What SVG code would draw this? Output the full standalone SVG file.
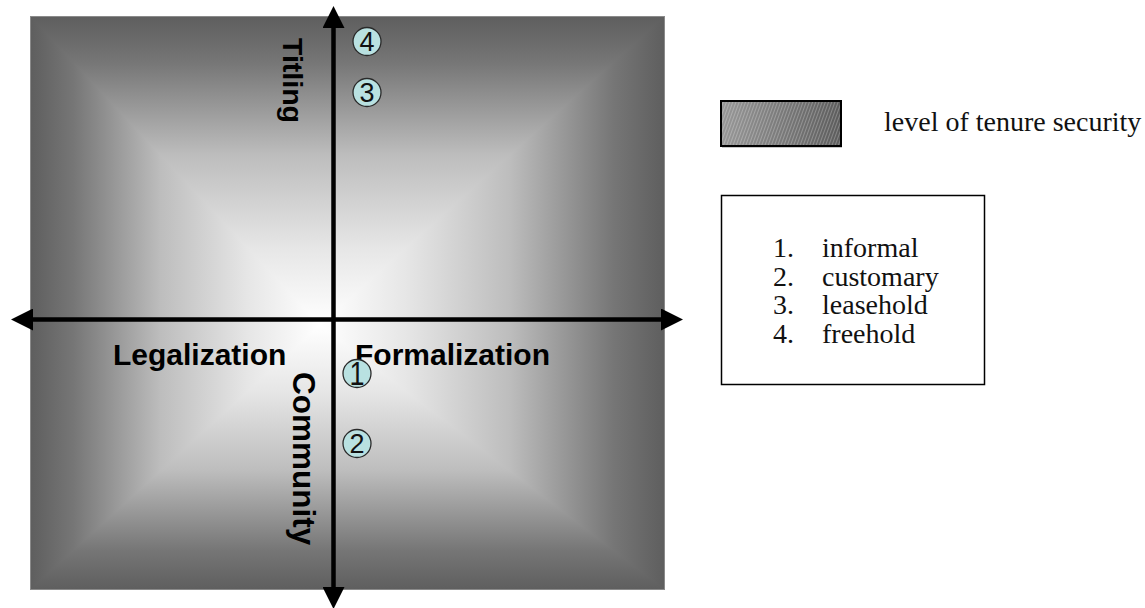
<svg xmlns="http://www.w3.org/2000/svg" width="1145" height="608" viewBox="0 0 1145 608">
  <defs>
    <!-- shared grey ramp: dark at the outer edge, white at the centre -->
    <linearGradient id="ramp">
      <stop offset="0" stop-color="#5e5e5e"/>
      <stop offset="0.15" stop-color="#767676"/>
      <stop offset="0.45" stop-color="#bdbdbd"/>
      <stop offset="0.75" stop-color="#e6e6e6"/>
      <stop offset="1" stop-color="#ffffff"/>
    </linearGradient>
    <linearGradient id="gLeft" href="#ramp" gradientUnits="userSpaceOnUse" x1="30" y1="0" x2="320" y2="0"/>
    <linearGradient id="gRight" href="#ramp" gradientUnits="userSpaceOnUse" x1="665" y1="0" x2="320" y2="0"/>
    <linearGradient id="gTop" href="#ramp" gradientUnits="userSpaceOnUse" x1="0" y1="16" x2="0" y2="325"/>
    <linearGradient id="gBottom" href="#ramp" gradientUnits="userSpaceOnUse" x1="0" y1="590" x2="0" y2="325"/>

    <!-- legend swatch: grey shading with fine diagonal hatching -->
    <linearGradient id="swatchShade" x1="0" y1="0" x2="1" y2="0">
      <stop offset="0" stop-color="#989898"/>
      <stop offset="1" stop-color="#5c5c5c"/>
    </linearGradient>
    <pattern id="hatch" width="3" height="3" patternUnits="userSpaceOnUse" patternTransform="rotate(20)">
      <rect x="0" y="0" width="1" height="3" fill="#ffffff" fill-opacity="0.25"/>
    </pattern>

    <marker id="arrow" viewBox="0 0 22 22" refX="0" refY="11" markerWidth="22" markerHeight="22"
            markerUnits="userSpaceOnUse" orient="auto-start-reverse">
      <path d="M0,0 L22,11 L0,22 Z" fill="#000000"/>
    </marker>

    <style>
      .axis { stroke: #000000; stroke-width: 4.5; fill: none; }
      .axisLabel { font-family: "Liberation Sans", Arial, sans-serif; font-weight: bold; fill: #000000; }
      .badge circle { fill: #b9e1e1; stroke: #2a2a2a; stroke-width: 1.3; }
      .badge text { font-family: "Liberation Sans", Arial, sans-serif; font-size: 27px; fill: #111111; text-anchor: middle; }
      .legendText { font-family: "Liberation Serif", "Times New Roman", serif; font-size: 28px; fill: #111111; }
    </style>
  </defs>

  <rect width="1145" height="608" fill="#ffffff"/>

  <!-- shaded field: a pyramid gradient built from halves and triangles -->
  <g id="field">
    <rect x="30" y="16" width="290" height="574" fill="url(#gLeft)"/>
    <rect x="320" y="16" width="345" height="574" fill="url(#gRight)"/>
    <polygon points="30,16 665,16 320,325" fill="url(#gTop)"/>
    <polygon points="30,590 665,590 320,325" fill="url(#gBottom)"/>
    <rect x="30.5" y="16.5" width="634" height="573" fill="none" stroke="#8a8a8a" stroke-width="1"/>
  </g>

  <!-- axes -->
  <g id="connectors">
    <path class="axis" d="M33,319.5 H661" marker-start="url(#arrow)" marker-end="url(#arrow)"/>
    <path class="axis" d="M333.5,28 V587" marker-start="url(#arrow)" marker-end="url(#arrow)"/>
  </g>

  <!-- axis labels -->
  <g id="label-legalization">
    <text class="axisLabel" x="113" y="365" font-size="30">Legalization</text>
  </g>
  <g id="label-formalization">
    <text class="axisLabel" x="355" y="365" font-size="30">Formalization</text>
  </g>
  <g id="label-titling">
    <text class="axisLabel" transform="translate(283,38) rotate(90)" font-size="28.5">Titling</text>
  </g>
  <g id="label-community">
    <text class="axisLabel" transform="translate(293,372) rotate(90)" font-size="31.5">Community</text>
  </g>

  <!-- numbered tenure types -->
  <g id="node-4" class="badge">
    <circle cx="367" cy="41.5" r="14"/>
    <text x="367" y="51">4</text>
  </g>
  <g id="node-3" class="badge">
    <circle cx="367" cy="92.5" r="14"/>
    <text x="367" y="102">3</text>
  </g>
  <g id="node-1" class="badge">
    <circle cx="357" cy="373.5" r="14"/>
    <text x="357" y="383" transform="translate(357,373.5) scale(1,1.25) translate(-357,-373.5)">1</text>
  </g>
  <g id="node-2" class="badge">
    <circle cx="357" cy="443.5" r="14"/>
    <text x="357" y="453">2</text>
  </g>

  <!-- legend: swatch -->
  <g id="legend-swatch">
    <rect x="722" y="102" width="120" height="46" fill="#c8c8c8"/>
    <rect x="721" y="101" width="120" height="45" fill="url(#swatchShade)"/>
    <rect x="721" y="101" width="120" height="45" fill="url(#hatch)" stroke="#000000" stroke-width="2"/>
    <text class="legendText" x="884" y="131">level of tenure security</text>
  </g>

  <!-- legend: numbered list -->
  <g id="legend-list">
    <rect x="721.5" y="195.5" width="263" height="189" fill="#ffffff" stroke="#000000" stroke-width="1.5"/>
    <text class="legendText" x="773" y="257">1.</text>
    <text class="legendText" x="822" y="257">informal</text>
    <text class="legendText" x="773" y="285.5">2.</text>
    <text class="legendText" x="822" y="285.5">customary</text>
    <text class="legendText" x="773" y="314">3.</text>
    <text class="legendText" x="822" y="314">leasehold</text>
    <text class="legendText" x="773" y="342.5">4.</text>
    <text class="legendText" x="822" y="342.5">freehold</text>
  </g>
</svg>
